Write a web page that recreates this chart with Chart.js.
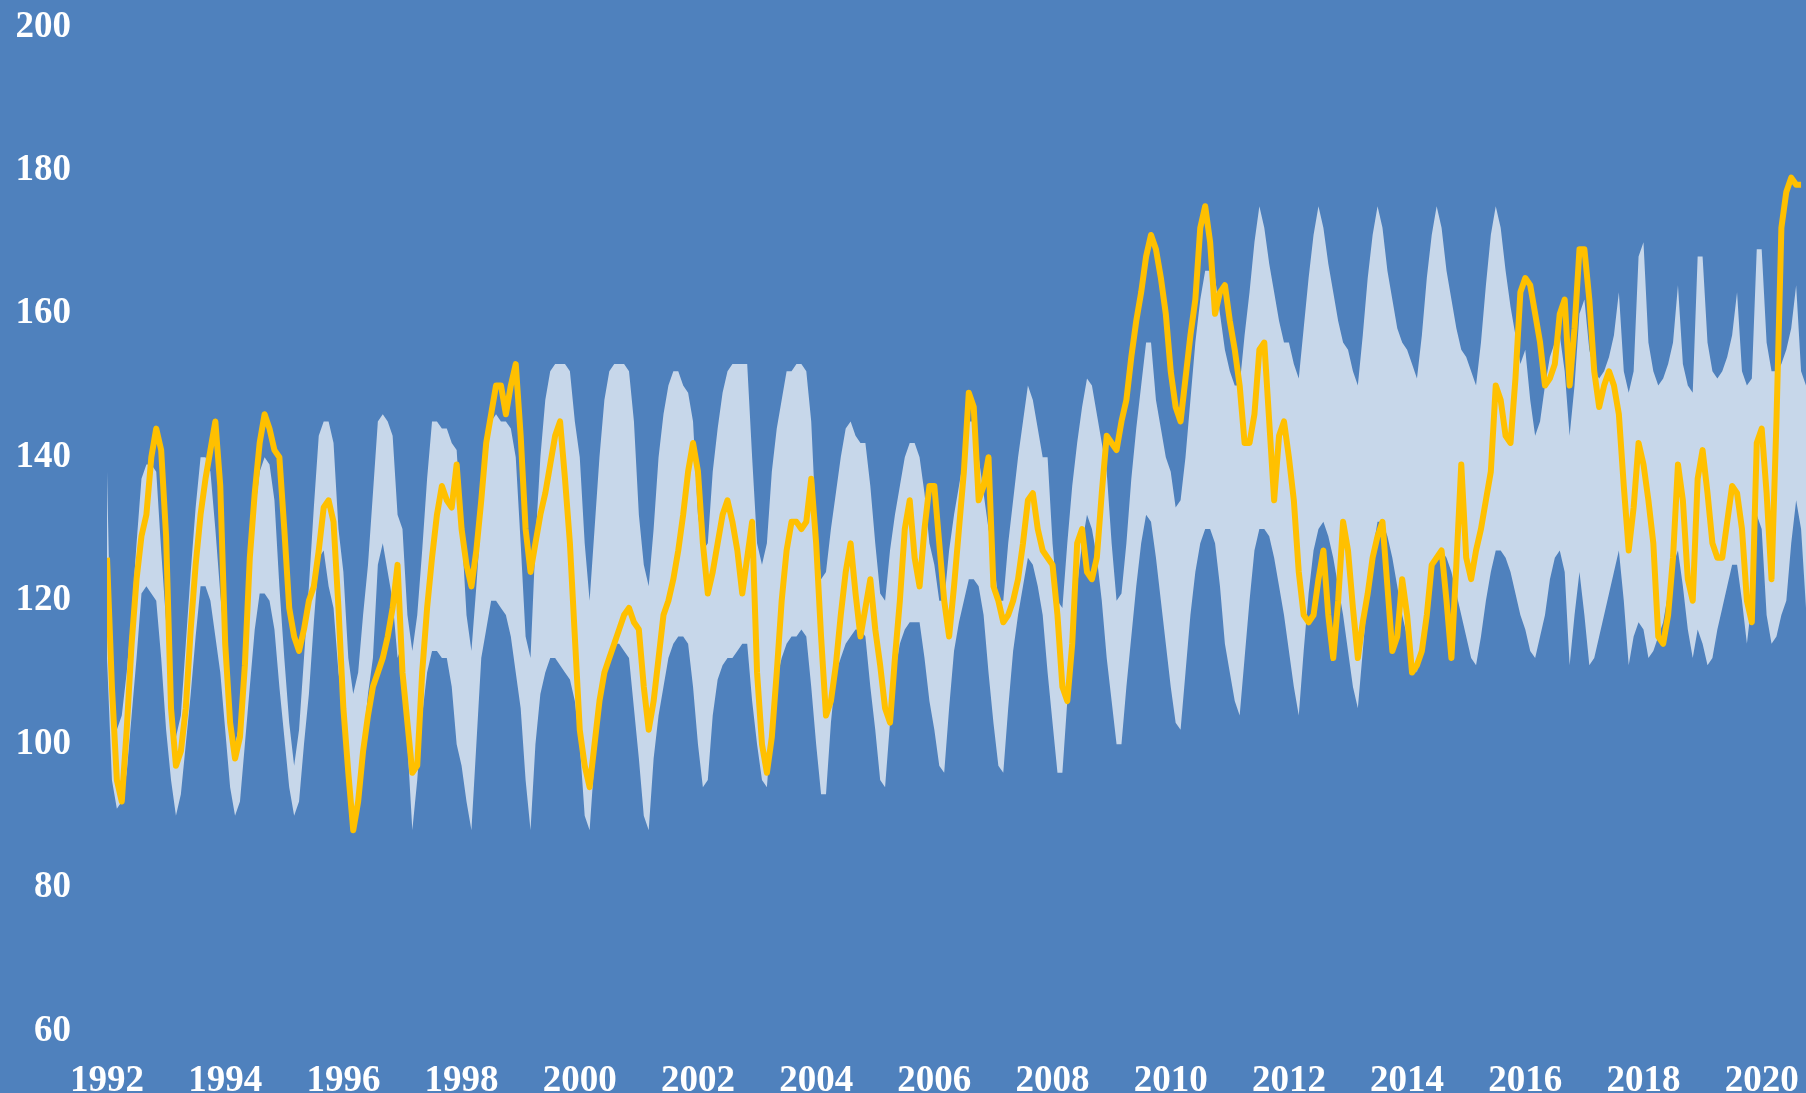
<!DOCTYPE html>
<html lang="en">
<head>
    <meta charset="UTF-8">
    <title>Seasonal range</title>
    <script src="https://cdn.jsdelivr.net/npm/chart.js"></script>
    <style>
        html, body {
            margin: 0;
            padding: 0;
            background: #4f81bd;
        }
        canvas {
            display: block;
        }
    </style>
</head>
<body>

    <canvas id="rangeChart" width="1806" height="1093"></canvas>

    <script>
        // monthly values, starting January 1992
        const startYear = 1992;

        const lineValues = [
            126, 108, 95, 92, 102, 114, 123, 129, 132, 140, 144, 141,   // 1992
            129, 105, 97, 99, 105, 116, 125, 132, 137, 141, 145, 136,   // 1993
            114, 103, 98, 101, 111, 126, 135, 142, 146, 144, 141, 140,  // 1994
            130, 119, 115, 113, 116, 120, 122, 127, 133, 134, 131, 119, // 1995
            105, 96, 88, 92, 99, 104, 108, 110, 112, 115, 119, 125,     // 1996
            110, 103, 96, 97, 110, 119, 126, 132, 136, 134, 133, 139,   // 1997
            130, 125, 122, 127, 134, 142, 146, 150, 150, 146, 150, 153, // 1998
            143, 130, 124, 128, 132, 135, 139, 143, 145, 137, 128, 115, // 1999
            102, 97, 94, 100, 106, 110, 112, 114, 116, 118, 119, 117,   // 2000
            116, 108, 102, 106, 112, 118, 120, 123, 127, 132, 138, 142, // 2001
            138, 128, 121, 124, 128, 132, 134, 131, 127, 121, 126, 131, // 2002
            110, 100, 96, 101, 110, 120, 127, 131, 131, 130, 131, 137,  // 2003
            128, 115, 104, 106, 111, 118, 124, 128, 121, 115, 119, 123, // 2004
            116, 111, 105, 103, 112, 120, 130, 134, 126, 122, 130, 136, // 2005
            136, 128, 120, 115, 122, 130, 138, 149, 147, 134, 136, 140, // 2006
            122, 120, 117, 118, 120, 123, 128, 134, 135, 130, 127, 126, // 2007
            125, 118, 108, 106, 114, 128, 130, 124, 123, 126, 135, 143, // 2008
            142, 141, 145, 148, 154, 159, 163, 168, 171, 169, 165, 160, // 2009
            152, 147, 145, 151, 157, 162, 172, 175, 170, 160, 163, 164, // 2010
            159, 155, 150, 142, 142, 146, 155, 156, 145, 134, 143, 145, // 2011
            140, 134, 124, 118, 117, 118, 123, 127, 118, 112, 120, 131, // 2012
            127, 119, 112, 117, 121, 126, 129, 131, 122, 113, 115, 123, // 2013
            118, 110, 111, 113, 118, 125, 126, 127, 120, 112, 125, 139, // 2014
            126, 123, 127, 130, 134, 138, 150, 148, 143, 142, 151, 163, // 2015
            165, 164, 160, 156, 150, 151, 153, 160, 162, 150, 158, 169, // 2016
            169, 162, 152, 147, 150, 152, 150, 146, 136, 127, 133, 142, // 2017
            139, 134, 128, 115, 114, 118, 126, 139, 134, 123, 120, 137, // 2018
            141, 135, 128, 126, 126, 131, 136, 135, 130, 120, 117, 142, // 2019
            144, 135, 123, 145, 172, 177, 179, 178, 178                 // 2020
        ];

        const bandHigh = [
            138, 106, 102, 104, 110, 118, 128, 137, 139, 139, 138, 127, // 1992
            117, 108, 101, 104, 114, 124, 133, 140, 140, 138, 130, 121, // 1993
            113, 104, 100, 103, 113, 124, 132, 138, 140, 139, 134, 122, // 1994
            112, 103, 97, 102, 112, 122, 133, 143, 145, 145, 142, 130,  // 1995
            124, 112, 107, 110, 118, 125, 135, 145, 146, 145, 143, 132, // 1996
            130, 118, 113, 118, 127, 137, 145, 145, 144, 144, 142, 141, // 1997
            130, 118, 113, 122, 132, 139, 145, 146, 145, 145, 144, 140, // 1998
            128, 115, 112, 128, 140, 148, 152, 153, 153, 153, 152, 145, // 1999
            140, 128, 120, 130, 140, 148, 152, 153, 153, 153, 152, 145, // 2000
            132, 125, 122, 130, 140, 146, 150, 152, 152, 150, 149, 145, // 2001
            132, 127, 128, 138, 144, 149, 152, 153, 153, 153, 153, 140, // 2002
            128, 125, 128, 138, 144, 148, 152, 152, 153, 153, 152, 145, // 2003
            130, 123, 124, 130, 135, 140, 144, 145, 143, 142, 142, 136, // 2004
            128, 121, 120, 127, 132, 136, 140, 142, 142, 140, 135, 128, // 2005
            125, 120, 120, 127, 132, 136, 140, 145, 145, 140, 135, 130, // 2006
            126, 120, 120, 128, 134, 140, 145, 150, 148, 144, 140, 140, // 2007
            128, 120, 119, 128, 136, 142, 147, 151, 150, 146, 142, 138, // 2008
            128, 120, 121, 128, 137, 144, 150, 156, 156, 148, 144, 140, // 2009
            138, 133, 134, 140, 148, 156, 162, 166, 166, 165, 160, 155, // 2010
            152, 150, 150, 157, 163, 170, 175, 172, 167, 163, 159, 156, // 2011
            156, 153, 151, 158, 165, 171, 175, 172, 167, 163, 159, 156, // 2012
            155, 152, 150, 157, 165, 171, 175, 172, 166, 162, 158, 156, // 2013
            155, 153, 151, 157, 165, 171, 175, 172, 166, 162, 158, 155, // 2014
            154, 152, 150, 156, 164, 171, 175, 172, 166, 161, 157, 153, // 2015
            155, 148, 143, 145, 150, 154, 156, 157, 152, 143, 150, 160, // 2016
            162, 155, 152, 151, 152, 154, 157, 163, 152, 149, 152, 168, // 2017
            170, 156, 152, 150, 151, 153, 156, 164, 153, 150, 149, 168, // 2018
            168, 156, 152, 151, 152, 154, 157, 163, 152, 150, 151, 169, // 2019
            169, 156, 152, 152, 153, 155, 158, 164, 152, 150            // 2020
        ];

        const bandLow = [
            112, 95, 91, 92, 96, 104, 112, 121, 122, 121, 120, 112,     // 1992
            102, 95, 90, 93, 100, 107, 115, 122, 122, 120, 115, 110,    // 1993
            102, 94, 90, 92, 100, 108, 116, 121, 121, 120, 116, 108,    // 1994
            101, 94, 90, 92, 100, 107, 117, 126, 127, 122, 119, 110,    // 1995
            105, 95, 88, 92, 100, 107, 112, 125, 128, 124, 120, 112,    // 1996
            114, 100, 88, 95, 104, 110, 113, 113, 112, 112, 108, 100,   // 1997
            97, 92, 88, 100, 112, 116, 120, 120, 119, 118, 115, 110,    // 1998
            105, 95, 88, 100, 107, 110, 112, 112, 111, 110, 109, 106,   // 1999
            100, 90, 88, 98, 105, 110, 113, 114, 114, 113, 112, 105,    // 2000
            98, 90, 88, 98, 104, 108, 112, 114, 115, 115, 114, 108,     // 2001
            100, 94, 95, 104, 109, 111, 112, 112, 113, 114, 114, 106,   // 2002
            100, 95, 94, 103, 109, 112, 114, 115, 115, 116, 115, 108,   // 2003
            100, 93, 93, 103, 110, 112, 114, 115, 116, 116, 115, 108,   // 2004
            102, 95, 94, 103, 110, 114, 116, 117, 117, 117, 112, 106,   // 2005
            102, 97, 96, 105, 113, 117, 120, 123, 123, 122, 118, 110,   // 2006
            103, 97, 96, 105, 113, 118, 122, 126, 125, 122, 118, 110,   // 2007
            103, 96, 96, 106, 115, 122, 128, 132, 130, 126, 120, 112,   // 2008
            106, 100, 100, 108, 115, 122, 128, 132, 131, 126, 120, 114, // 2009
            108, 103, 102, 110, 118, 124, 128, 130, 130, 128, 122, 114, // 2010
            110, 106, 104, 112, 120, 127, 130, 130, 129, 126, 122, 118, // 2011
            113, 108, 104, 113, 121, 127, 130, 131, 129, 126, 122, 118, // 2012
            113, 108, 105, 113, 121, 127, 131, 131, 129, 126, 122, 118, // 2013
            115, 112, 110, 115, 120, 124, 126, 127, 126, 124, 121, 118, // 2014
            115, 112, 111, 115, 120, 124, 127, 127, 126, 124, 121, 118, // 2015
            116, 113, 112, 115, 118, 123, 126, 127, 124, 111, 118, 124, // 2016
            118, 111, 112, 115, 118, 121, 124, 127, 120, 111, 115, 117, // 2017
            116, 112, 113, 115, 117, 121, 125, 127, 122, 116, 112, 116, // 2018
            114, 111, 112, 116, 119, 122, 125, 125, 120, 114, 120, 132, // 2019
            130, 118, 114, 115, 118, 120, 128, 134, 130, 119            // 2020
        ];

        const yearTicks = [1992, 1994, 1996, 1998, 2000, 2002, 2004, 2006,
                           2008, 2010, 2012, 2014, 2016, 2018, 2020];
        const valueTicks = [60, 80, 100, 120, 140, 160, 180, 200];

        const toPoints = arr => arr.map((v, i) => ({ x: startYear + i / 12, y: v }));

        const tickFont = { family: '"Liberation Serif", "DejaVu Serif", serif', size: 37, weight: 'bold' };

        const ctx = document.getElementById("rangeChart").getContext("2d");
        new Chart(ctx, {
            type: "line",
            data: {
                datasets: [
                    {
                        label: "Current",
                        data: toPoints(lineValues),
                        borderColor: "#ffc000",
                        borderWidth: 6,
                        borderJoinStyle: "round",
                        fill: false,
                        order: 0
                    },
                    {
                        label: "Range low",
                        data: toPoints(bandLow),
                        borderWidth: 0,
                        borderColor: "rgba(0,0,0,0)",
                        fill: false,
                        order: 2
                    },
                    {
                        label: "Range high",
                        data: toPoints(bandHigh),
                        borderWidth: 0,
                        borderColor: "rgba(0,0,0,0)",
                        backgroundColor: "#c7d7ea",
                        fill: "-1",
                        order: 1
                    }
                ]
            },
            options: {
                responsive: false,
                animation: false,
                devicePixelRatio: 1,
                layout: { padding: { top: 27, left: 0, right: 0, bottom: 0 } },
                elements: { point: { radius: 0 }, line: { tension: 0 } },
                plugins: {
                    legend: { display: false },
                    tooltip: { enabled: false }
                },
                scales: {
                    x: {
                        type: "linear",
                        min: 1992,
                        max: 2020.75,
                        grid: { display: false, drawTicks: false },
                        border: { display: false },
                        afterBuildTicks: s => { s.ticks = yearTicks.map(v => ({ value: v })); },
                        afterFit: s => {
                            s.height = 62;
                            s.paddingLeft = 0;
                            s.paddingRight = 0;
                        },
                        ticks: {
                            color: "#ffffff",
                            font: tickFont,
                            padding: 28,
                            maxRotation: 0,
                            autoSkip: false,
                            callback: v => String(v)
                        }
                    },
                    y: {
                        min: 60,
                        max: 200,
                        grid: { display: false, drawTicks: false },
                        border: { display: false },
                        afterBuildTicks: s => { s.ticks = valueTicks.map(v => ({ value: v })); },
                        afterFit: s => {
                            s.width = 107;
                            s.paddingTop = 0;
                            s.paddingBottom = 0;
                        },
                        ticks: {
                            color: "#ffffff",
                            font: tickFont,
                            padding: 36,
                            callback: v => String(v)
                        }
                    }
                }
            }
        });
    </script>

</body>
</html>
